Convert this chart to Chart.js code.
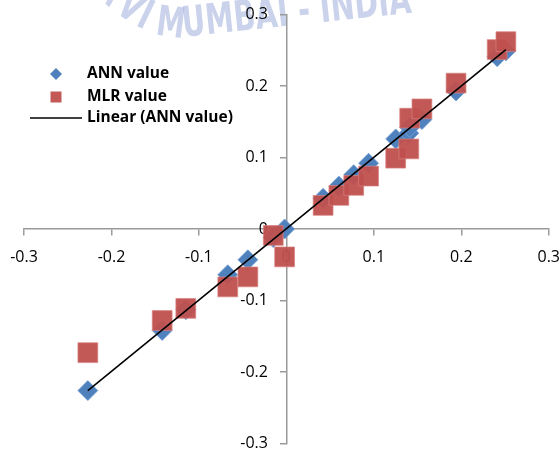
<!DOCTYPE html>
<html>
<head>
<meta charset="utf-8">
<script src="https://cdn.jsdelivr.net/npm/chart.js@4/dist/chart.umd.min.js"></script>
<style>
  html, body { margin: 0; padding: 0; background: #fff; }
  #wrap { width: 560px; height: 454px; position: relative; }
</style>
</head>
<body>
<div id="wrap"><canvas id="myChart" width="560" height="454"></canvas></div>
<script>
// observed values (x) and the two model predictions (y)
const actualValues = [-0.227, -0.142, -0.115, -0.067, -0.044, -0.015, -0.002, 0.042, 0.060, 0.077, 0.094, 0.125, 0.140, 0.141, 0.155, 0.194, 0.241, 0.251];
const annValues = [-0.226, -0.142, -0.113, -0.064, -0.043, -0.012, 0.000, 0.043, 0.060, 0.076, 0.092, 0.126, 0.134, 0.142, 0.153, 0.193, 0.241, 0.249];
const mlrValues = [-0.173, -0.128, -0.111, -0.081, -0.067, -0.009, -0.039, 0.033, 0.047, 0.061, 0.074, 0.099, 0.112, 0.155, 0.168, 0.204, 0.251, 0.262];
// trend line end points
const trendX = [-0.227, 0.251];
const trendY = [-0.226, 0.251];
const seriesNames = ['ANN value', 'MLR value', 'Linear (ANN value)'];
const axisMin = -0.3;
const axisMax = 0.3;
const axisStep = 0.1;

const blue = '#4F81BD';
const axisGrey = '#9a9a9a';
const fontName = "'Open Sans', 'Liberation Sans', sans-serif";

// faint watermark behind the chart, letters laid along a curve
const watermark = {
  id: 'watermark',
  beforeDraw(chart) {
    const ctx = chart.ctx;
    const text = 'NAVI MUMBAI - INDIA';
    const sx = 0.68;
    const baseY = (x) => x >= 180 ? 37 - (x - 180) * 0.105 : 37 - (180 - x) * (180 - x) * 0.006;
    const slope = (x) => x >= 180 ? -0.105 : 0.012 * (180 - x);
    ctx.save();
    ctx.fillStyle = '#fff';
    ctx.fillRect(0, 0, chart.width, chart.height);
    ctx.font = "bold 42px 'DejaVu Sans', sans-serif";
    ctx.fillStyle = 'rgba(150,168,215,0.5)';
    ctx.textAlign = 'center';
    ctx.textBaseline = 'alphabetic';
    let x = 153 - ctx.measureText('NAVI ').width * sx;
    for (const ch of text) {
      const w = ctx.measureText(ch).width * sx;
      const cx = x + w / 2;
      ctx.save();
      ctx.translate(cx, baseY(cx));
      ctx.rotate(Math.atan(slope(cx)));
      ctx.scale(sx, 1);
      ctx.fillText(ch, 0, 0);
      ctx.restore();
      x += w;
    }
    ctx.restore();
  }
};

// legend drawn inside the plot, top left
const innerLegend = {
  id: 'innerLegend',
  afterDraw(chart) {
    const ctx = chart.ctx;
    const markerX = 56;
    const textX = 87;
    const rows = [74, 97, 118];
    ctx.save();
    ctx.font = "bold 15.5px " + fontName;
    ctx.textBaseline = 'middle';
    ctx.textAlign = 'left';
    chart.data.datasets.forEach((ds, i) => {
      const y = rows[i];
      if (ds.pointStyle === 'rectRot') {
        ctx.fillStyle = ds.backgroundColor;
        ctx.beginPath();
        ctx.moveTo(markerX, y - 6);
        ctx.lineTo(markerX + 6, y);
        ctx.lineTo(markerX, y + 6);
        ctx.lineTo(markerX - 6, y);
        ctx.closePath();
        ctx.fill();
      } else if (ds.pointStyle === 'rect') {
        ctx.fillStyle = ds.backgroundColor;
        ctx.fillRect(markerX - 5.5, y - 5.5, 11, 11);
      } else {
        ctx.strokeStyle = '#000';
        ctx.lineWidth = 1.5;
        ctx.beginPath();
        ctx.moveTo(30, y);
        ctx.lineTo(82, y);
        ctx.stroke();
      }
      ctx.fillStyle = '#000';
      ctx.fillText(ds.label, textX, y);
    });
    ctx.restore();
  }
};

function tickLabel(v) {
  return String(Math.round(v * 10) / 10);
}

// axis lines + tick marks (labels come from the label scales below)
const lineAxis = (pos) => ({
  type: 'linear',
  min: axisMin,
  max: axisMax,
  position: pos,
  border: { color: axisGrey, width: 1.5 },
  grid: { drawOnChartArea: false, drawTicks: true, tickLength: 6, color: axisGrey, lineWidth: 1.5 },
  ticks: { stepSize: axisStep, display: false }
});
// label-only scales, set a little away from the axis lines like Excel does
const labelAxis = (axis, pos) => ({
  type: 'linear',
  axis: axis,
  min: axisMin,
  max: axisMax,
  position: pos,
  border: { display: false },
  grid: { display: false, drawTicks: false },
  ticks: {
    stepSize: axisStep,
    color: '#000',
    padding: 0,
    maxRotation: 0,
    font: { family: fontName, size: 16 },
    callback: tickLabel
  }
});

const ctx = document.getElementById('myChart');
const chart = new Chart(ctx, {
  type: 'scatter',
  data: {
    datasets: [
      {
        label: seriesNames[0],
        data: actualValues.map((x, i) => ({ x: x, y: annValues[i] })),
        xAxisID: 'x',
        yAxisID: 'y',
        pointStyle: 'rectRot',
        pointRadius: 10,
        backgroundColor: blue,
        borderColor: 'rgba(120,160,215,0.8)',
        borderWidth: 1,
        order: 2
      },
      {
        label: seriesNames[1],
        data: actualValues.map((x, i) => ({ x: x, y: mlrValues[i] })),
        xAxisID: 'x',
        yAxisID: 'y',
        pointStyle: 'rect',
        pointRadius: 14,
        backgroundColor: 'rgba(192,80,77,0.95)',
        borderColor: 'rgba(215,130,128,0.7)',
        borderWidth: 1,
        order: 1
      },
      {
        label: seriesNames[2],
        type: 'line',
        data: trendX.map((x, i) => ({ x: x, y: trendY[i] })),
        xAxisID: 'x',
        yAxisID: 'y',
        borderColor: '#000',
        borderWidth: 1.6,
        pointRadius: 0,
        fill: false,
        order: 0
      }
    ]
  },
  options: {
    responsive: false,
    animation: false,
    layout: { autoPadding: false, padding: { left: 24, right: 11, top: 14.5, bottom: 10.5 } },
    plugins: {
      legend: { display: false },
      tooltip: { enabled: false }
    },
    scales: {
      x: lineAxis({ y: 0 }),
      y: lineAxis({ x: 0 }),
      xl: labelAxis('x', { y: -0.0266 }),
      yl: labelAxis('y', { x: -0.0211 })
    }
  },
  plugins: [watermark, innerLegend]
});
</script>
</body>
</html>
